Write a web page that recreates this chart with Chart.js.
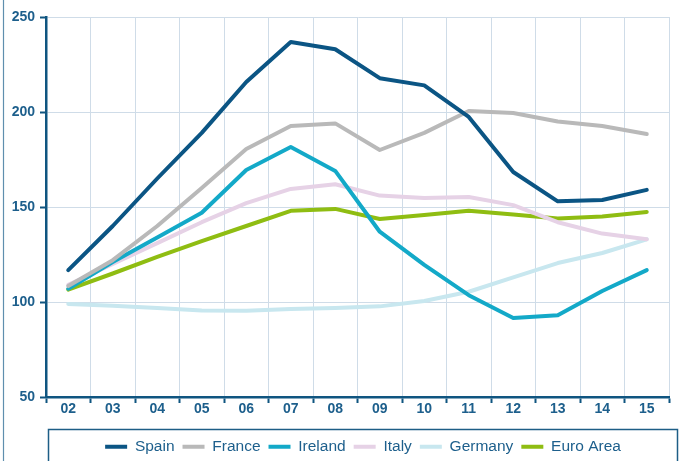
<!DOCTYPE html>
<html>
<head>
<meta charset="utf-8">
<script src="https://cdn.jsdelivr.net/npm/chart.js@4/dist/chart.umd.min.js"></script>
<style>
  html, body { margin: 0; padding: 0; background: #ffffff; }
  #wrap { width: 683px; height: 461px; position: relative; }
</style>
</head>
<body>
<div id="wrap"><canvas id="chart" width="683" height="461"></canvas></div>
<script>
const years = ['02', '03', '04', '05', '06', '07', '08', '09', '10', '11', '12', '13', '14', '15']
const yTicks = [50, 100, 150, 200, 250]

const spain   = [116.8, 140, 165, 189, 215.8, 236.8, 233, 217.8, 214, 197.4, 168.4, 153, 153.7, 159]
const france  = [108.4, 122, 140, 160, 180.5, 192.6, 194, 180, 189, 200.5, 199.5, 195, 192.6, 188.4]
const ireland = [107, 121, 134, 147, 169.5, 181.6, 169, 137, 119.5, 103.6, 91.6, 93, 105.8, 116.8]
const italy   = [109, 120, 131, 142, 152, 159.5, 162, 156, 154.7, 155.3, 151, 142, 136, 133]
const germany = [99, 98, 96.8, 95.5, 95.4, 96.3, 96.8, 97.7, 100.5, 105.4, 113, 120.5, 125.8, 133]
const euro    = [106.5, 115, 123.7, 132, 140, 148, 149, 143.7, 145.8, 148, 146, 144, 145, 147.4]

const AXIS = '#0f5580'
const TEXT = '#1d5f8c'
const GRID = '#cfdce8'
const FONT = "'Liberation Sans', Arial, sans-serif"

function series(label, data, color) {
    return {
        label,
        data,
        borderColor: color,
        backgroundColor: color,
        borderWidth: 4,
        borderCapStyle: 'round',
        borderJoinStyle: 'round',
        pointRadius: 0,
        pointHoverRadius: 0,
        tension: 0,
        fill: false
    }
}

// page frame and the box round the legend
const framePlugin = {
    id: 'frame',
    afterLayout(chart) {
        // put the legend inside its box rather than on the whole canvas
        const legend = chart.legend
        if (legend) {
            const h = legend.height
            legend.left = 48
            legend.right = 678
            legend.width = 630
            legend.top = 431
            legend.bottom = 431 + h
        }
    },
    afterDraw(chart) {
        const ctx = chart.ctx
        ctx.save()
        ctx.strokeStyle = '#5f8fae'
        ctx.lineWidth = 1.2
        ctx.beginPath()
        ctx.moveTo(3.5, 0)
        ctx.lineTo(3.5, 461)
        ctx.stroke()
        ctx.strokeStyle = '#1d5e86'
        ctx.lineWidth = 1.5
        ctx.strokeRect(48.5, 429.5, 629, 40)
        ctx.restore()
    }
}

new Chart(document.getElementById('chart'), {
    type: 'line',
    data: {
        labels: years,
        datasets: [
            series('Spain', spain, '#0b5584'),
            series('France', france, '#b9b9b9'),
            series('Ireland', ireland, '#13a9c8'),
            series('Italy', italy, '#e6d2e6'),
            series('Germany', germany, '#c8e7ef'),
            series('Euro Area', euro, '#8fbd12')
        ]
    },
    plugins: [framePlugin],
    options: {
        animation: false,
        responsive: false,
        maintainAspectRatio: false,
        layout: {
            padding: { top: 17, right: 14, left: 0, bottom: 0 }
        },
        plugins: {
            legend: {
                position: 'bottom',
                labels: {
                    usePointStyle: true,
                    pointStyle: 'line',
                    pointStyleWidth: 22,
                    boxWidth: 22,
                    boxHeight: 15,
                    padding: 8,
                    color: TEXT,
                    font: { family: FONT, size: 15.5 }
                }
            },
            tooltip: { enabled: false }
        },
        scales: {
            x: {
                offset: true,
                afterFit(scale) { scale.height = 30.5 },
                grid: {
                    offset: true,
                    color: GRID,
                    lineWidth: 1,
                    tickColor: AXIS,
                    tickWidth: 2,
                    tickLength: 6
                },
                border: { color: AXIS, width: 2.5 },
                ticks: {
                    color: TEXT,
                    padding: -2,
                    font: { family: FONT, size: 14, weight: 'bold' }
                }
            },
            y: {
                min: 50,
                max: 250,
                afterFit(scale) { scale.width = 46 },
                afterBuildTicks(scale) { scale.ticks = yTicks.map(v => ({ value: v })) },
                grid: {
                    color: GRID,
                    lineWidth: 1,
                    tickColor: AXIS,
                    tickWidth: 2,
                    tickLength: 6
                },
                border: { color: AXIS, width: 2.5 },
                ticks: {
                    color: TEXT,
                    padding: 5,
                    font: { family: FONT, size: 14, weight: 'bold' }
                }
            }
        }
    }
})
</script>
</body>
</html>
